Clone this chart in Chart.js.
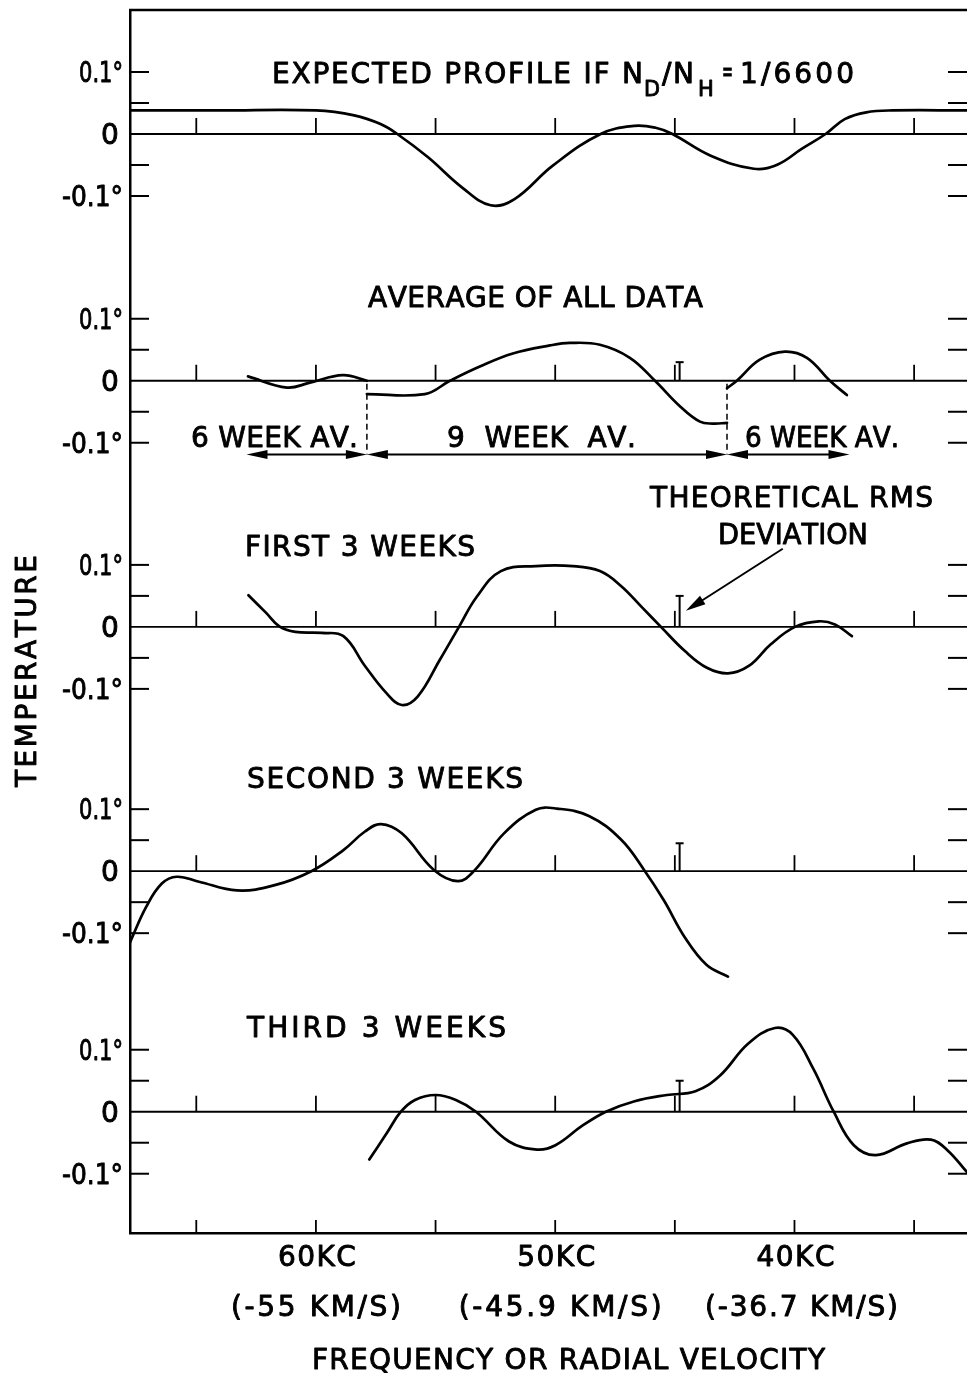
<!DOCTYPE html>
<html>
<head>
<meta charset="utf-8">
<script src="https://cdn.jsdelivr.net/npm/chart.js"></script>
<style>
  html, body { margin: 0; padding: 0; background: #fff; }
  #wrap { width: 967px; height: 1379px; position: relative; }
</style>
</head>
<body>
<div id="wrap"><canvas id="myChart"></canvas></div>
<script>
// frequency in KC, temperature in degrees (each panel has its own zero line)
const expectedFreq = [67.8, 64, 60, 58.4, 57.3, 56.6, 55.3, 53.9, 52.7, 51.7, 50.1, 48.1, 46.7, 45.8, 45.1, 43.5, 41.7, 40.7, 39.7, 38.7, 37.9, 37.0, 35.9, 32.8];
const expectedTemp = [0.038, 0.038, 0.038, 0.030, 0.016, 0, -0.038, -0.086, -0.115, -0.105, -0.051, 0, 0.013, 0.010, 0, -0.035, -0.056, -0.049, -0.024, 0, 0.024, 0.035, 0.038, 0.038];

// average of all data: 6 week / 9 week / 6 week pieces
const averageFreqA = [62.84, 61.21, 60.25, 58.87, 57.87];
const averageTempA = [0.007, -0.011, -0.003, 0.009, 0];
const averageFreqB = [57.87, 55.45, 54.40, 53.15, 51.77, 50.22, 49.39, 48.13, 46.88, 45.83, 44.79, 43.95, 43.41, 42.82];
const averageTempB = [-0.0215, -0.0215, 0, 0.023, 0.044, 0.057, 0.061, 0.058, 0.037, 0, -0.041, -0.066, -0.069, -0.068];
const averageFreqC = [42.82, 42.41, 41.45, 40.40, 39.48, 38.52, 37.81];
const averageTempC = [-0.012, 0, 0.034, 0.047, 0.037, 0, -0.023];

const firstFreq = [62.82, 62.09, 61.53, 60.86, 59.75, 58.85, 57.95, 57.07, 56.41, 55.74, 54.82, 54.02, 53.27, 52.27, 50.81, 49.26, 48.13, 47.25, 46.36, 45.58, 44.58, 43.66, 42.78, 41.91, 40.99, 39.98, 38.98, 38.31, 37.60];
const firstTemp = [0.051, 0.023, 0.001, -0.008, -0.0097, -0.015, -0.063, -0.106, -0.126, -0.112, -0.053, 0, 0.049, 0.090, 0.098, 0.098, 0.090, 0.066, 0.031, 0, -0.039, -0.066, -0.075, -0.063, -0.028, 0, 0.009, 0.004, -0.015];

const secondFreq = [67.77, 67.10, 66.44, 65.81, 64.89, 63.30, 61.76, 60.19, 58.85, 57.95, 57.28, 56.41, 55.07, 54.07, 53.40, 52.14, 50.81, 49.93, 48.59, 47.25, 46.25, 45.46, 44.58, 43.68, 42.78];
const secondTemp = [-0.115, -0.058, -0.020, -0.009, -0.017, -0.031, -0.023, 0, 0.034, 0.064, 0.076, 0.061, 0.002, -0.016, 0, 0.061, 0.099, 0.101, 0.089, 0.051, 0, -0.047, -0.107, -0.151, -0.170];

const thirdFreq = [57.77, 57.03, 56.45, 55.86, 55.00, 54.15, 53.31, 51.93, 50.76, 49.99, 48.88, 47.88, 46.68, 45.33, 44.14, 43.12, 41.93, 40.82, 40.07, 39.21, 38.36, 37.52, 36.60, 35.30, 34.30, 33.61, 32.80];
const thirdTemp = [-0.077, -0.034, 0, 0.019, 0.027, 0.019, 0, -0.048, -0.061, -0.054, -0.023, 0, 0.017, 0.027, 0.033, 0.058, 0.110, 0.135, 0.124, 0.069, 0, -0.054, -0.070, -0.051, -0.045, -0.062, -0.097];

// theoretical rms deviation bars (panels 2..5)
const rmsFreq = 44.8;
const rmsHeight = [null, 0.03, 0.05, 0.045, 0.05];

// averaging intervals in the second panel
const avBounds = [62.9, 57.87, 42.82, 37.7];

// axis ticks
const minorFreq = [65, 60, 55, 50, 45, 40, 35];
const majorFreq = [60, 50, 40];
const kcLabels = ['60KC', '50KC', '40KC'];
const velocityLabels = ['(-55 KM/S)', '(-45.9 KM/S)', '(-36.7 KM/S)'];
const yTickValues = [0.1, 0.05, -0.05, -0.1];
const yLabelValues = [0.1, 0, -0.1];
const yLabels = ['0.1°', '0', '-0.1°'];

// layout: vertical shift of each panel's zero line
const panelShift = [0, -0.398, -0.795, -1.189, -1.577];

const FONT = '"DejaVu Sans", "Liberation Sans", sans-serif';

function series(freq, temp, panel) {
  return freq.map((f, i) => ({ x: f, y: temp[i] + panelShift[panel] }));
}

function fitText(ctx, str, x0, x1, base, size) {
  ctx.font = (size || 28) + 'px ' + FONT;
  const chars = [...str];
  const widths = chars.map(c => ctx.measureText(c).width);
  const natural = widths.reduce((a, b) => a + b, 0);
  const target = x1 - x0;
  ctx.save();
  let sx = 1, gap = 0;
  if (natural > target) sx = target / natural;
  else if (chars.length > 1) gap = (target - natural) / (chars.length - 1);
  ctx.translate(x0, base);
  ctx.scale(sx, 1);
  ctx.lineWidth = 0.9;
  ctx.lineJoin = 'round';
  let x = 0;
  chars.forEach((c, i) => {
    ctx.fillText(c, x, 0);
    ctx.strokeText(c, x, 0);
    x += widths[i] + gap / sx;
  });
  ctx.restore();
}

function arrowHead(ctx, tx, ty, fx, fy, len, half) {
  const a = Math.atan2(ty - fy, tx - fx);
  const bx = tx - len * Math.cos(a), by = ty - len * Math.sin(a);
  ctx.beginPath();
  ctx.moveTo(tx, ty);
  ctx.lineTo(bx + half * Math.sin(a), by - half * Math.cos(a));
  ctx.lineTo(bx - half * Math.sin(a), by + half * Math.cos(a));
  ctx.closePath();
  ctx.fill();
}

const texts = [
  { text: 'EXPECTED PROFILE IF N', x0: 272, x1: 643, y: 83 },
  { text: 'D', x0: 644, x1: 660, y: 96, size: 21 },
  { text: '/N', x0: 662, x1: 694, y: 83 },
  { text: 'H', x0: 698, x1: 714, y: 96, size: 21 },
  { text: '=', x0: 722, x1: 733, y: 81 },
  { text: '1/6600', x0: 740, x1: 854, y: 83 },
  { text: 'AVERAGE OF ALL DATA', x0: 368, x1: 703, y: 307 },
  { text: '6 WEEK AV.', x0: 191, x1: 358, y: 447 },
  { text: '9  WEEK  AV.', x0: 447, x1: 636, y: 447 },
  { text: '6 WEEK AV.', x0: 745, x1: 899, y: 447 },
  { text: 'THEORETICAL RMS', x0: 650, x1: 933, y: 507 },
  { text: 'DEVIATION', x0: 718, x1: 868, y: 544 },
  { text: 'FIRST 3 WEEKS', x0: 245, x1: 475, y: 556 },
  { text: 'SECOND 3 WEEKS', x0: 247, x1: 523, y: 788 },
  { text: 'THIRD 3 WEEKS', x0: 247, x1: 506, y: 1037 },
  { text: 'FREQUENCY OR RADIAL VELOCITY', x0: 312, x1: 825, y: 1369 }
];

const decorations = {
  id: 'decorations',
  beforeDatasetsDraw(chart) {
    const { ctx, chartArea: ca, scales: { x, y } } = chart;
    ctx.save();
    ctx.strokeStyle = '#000';
    ctx.fillStyle = '#000';
    ctx.lineCap = 'butt';

    // top frame line
    ctx.lineWidth = 2.5;
    ctx.beginPath(); ctx.moveTo(ca.left - 1, ca.top); ctx.lineTo(ca.right, ca.top); ctx.stroke();

    // bottom axis ticks (inward)
    ctx.lineWidth = 1.8;
    minorFreq.forEach(f => {
      const px = x.getPixelForValue(f);
      ctx.beginPath(); ctx.moveTo(px, ca.bottom); ctx.lineTo(px, ca.bottom - 13); ctx.stroke();
    });

    panelShift.forEach((shift, p) => {
      const y0 = y.getPixelForValue(shift);
      // zero line
      ctx.lineWidth = 1.8;
      ctx.beginPath(); ctx.moveTo(ca.left, y0); ctx.lineTo(ca.right, y0); ctx.stroke();
      // ticks on zero line
      minorFreq.forEach(f => {
        const px = x.getPixelForValue(f);
        ctx.beginPath(); ctx.moveTo(px, y0); ctx.lineTo(px, y0 - 16); ctx.stroke();
      });
      // inner ticks left / right
      ctx.lineWidth = 2;
      yTickValues.forEach(v => {
        const py = y.getPixelForValue(v + shift);
        ctx.beginPath(); ctx.moveTo(ca.left, py); ctx.lineTo(ca.left + 19, py); ctx.stroke();
        ctx.beginPath(); ctx.moveTo(ca.right - 19, py); ctx.lineTo(ca.right, py); ctx.stroke();
      });
      // labels
      yLabelValues.forEach((v, i) => {
        const py = y.getPixelForValue(v + shift);
        const lbl = yLabels[i];
        if (lbl === '0') fitText(ctx, lbl, 101, 119, py + 10);
        else if (v > 0) fitText(ctx, lbl, 79, 123, py + 10);
        else fitText(ctx, lbl, 62, 123, py + 10);
      });
      // rms bar
      if (rmsHeight[p] != null) {
        const px = x.getPixelForValue(rmsFreq);
        const pt = y.getPixelForValue(rmsHeight[p] + shift);
        ctx.lineWidth = 2;
        ctx.beginPath(); ctx.moveTo(px, y0); ctx.lineTo(px, pt); ctx.stroke();
        ctx.beginPath(); ctx.moveTo(px - 4, pt); ctx.lineTo(px + 4, pt); ctx.stroke();
      }
    });

    // dashed boundaries and interval arrows in the average panel
    const arrowY = y.getPixelForValue(-0.119 + panelShift[1]);
    ctx.lineWidth = 1.5;
    ctx.setLineDash([6, 4]);
    [avBounds[1], avBounds[2]].forEach(f => {
      const px = x.getPixelForValue(f);
      ctx.beginPath(); ctx.moveTo(px, y.getPixelForValue(panelShift[1] - 0.005)); ctx.lineTo(px, arrowY); ctx.stroke();
    });
    ctx.setLineDash([]);
    ctx.lineWidth = 2;
    for (let i = 0; i < avBounds.length - 1; i++) {
      const xa = x.getPixelForValue(avBounds[i]);
      const xb = x.getPixelForValue(avBounds[i + 1]);
      ctx.beginPath(); ctx.moveTo(xa + 10, arrowY); ctx.lineTo(xb - 10, arrowY); ctx.stroke();
      arrowHead(ctx, xa, arrowY, xb, arrowY, 21, 4.5);
      arrowHead(ctx, xb, arrowY, xa, arrowY, 21, 4.5);
    }

    // rms pointer arrow
    const hx = x.getPixelForValue(44.54), hy = y.getPixelForValue(0.026 + panelShift[2]);
    const tx = x.getPixelForValue(40.49), ty = y.getPixelForValue(0.126 + panelShift[2]);
    ctx.lineWidth = 2;
    ctx.beginPath(); ctx.moveTo(tx, ty); ctx.lineTo(hx + 8, hy - 5); ctx.stroke();
    arrowHead(ctx, hx, hy, tx, ty, 20, 5);

    // x tick labels
    majorFreq.forEach((f, i) => {
      const px = x.getPixelForValue(f);
      fitText(ctx, kcLabels[i], px - 38, px + 40, 1266);
    });
    const velWidth = [170, 203, 193];
    const velShift = [0, 5, 7];
    majorFreq.forEach((f, i) => {
      const cx = x.getPixelForValue(f) + velShift[i];
      fitText(ctx, velocityLabels[i], cx - velWidth[i] / 2, cx + velWidth[i] / 2, 1316);
    });

    // annotations
    texts.forEach(t => fitText(ctx, t.text, t.x0, t.x1, t.y, t.size));

    // vertical axis title
    ctx.save();
    ctx.translate(36, 787);
    ctx.rotate(-Math.PI / 2);
    fitText(ctx, 'TEMPERATURE', 0, 232, 0);
    ctx.restore();

    ctx.restore();
  }
};

const lineStyle = { borderColor: '#000', borderWidth: 2.7, pointRadius: 0, fill: false, tension: 0.4, borderCapStyle: 'round', borderJoinStyle: 'round' };

const data = {
  datasets: [
    { label: 'Expected profile', data: series(expectedFreq, expectedTemp, 0), ...lineStyle },
    { label: 'Average 6 week', data: series(averageFreqA, averageTempA, 1), ...lineStyle },
    { label: 'Average 9 week', data: series(averageFreqB, averageTempB, 1), ...lineStyle },
    { label: 'Average 6 week (2)', data: series(averageFreqC, averageTempC, 1), ...lineStyle },
    { label: 'First 3 weeks', data: series(firstFreq, firstTemp, 2), ...lineStyle },
    { label: 'Second 3 weeks', data: series(secondFreq, secondTemp, 3), ...lineStyle },
    { label: 'Third 3 weeks', data: series(thirdFreq, thirdTemp, 4), ...lineStyle }
  ]
};

const config = {
  type: 'line',
  data: data,
  options: {
    responsive: true,
    maintainAspectRatio: false,
    animation: false,
    layout: { padding: { left: 130, top: 10, right: 0, bottom: 146 } },
    plugins: { legend: { display: false }, tooltip: { enabled: false } },
    scales: {
      x: {
        type: 'linear', reverse: true, min: 32.79, max: 67.77,
        grid: { display: false, drawTicks: false },
        ticks: { display: false },
        border: { display: true, color: '#000', width: 2.5 },
        afterFit: s => { s.height = 0; }
      },
      y: {
        type: 'linear', min: -1.7726, max: 0.2,
        grid: { display: false, drawTicks: false },
        ticks: { display: false },
        border: { display: true, color: '#000', width: 2.5 },
        afterFit: s => { s.width = 0; }
      }
    }
  },
  plugins: [decorations]
};

const myChart = new Chart(document.getElementById('myChart'), config);
</script>
</body>
</html>
